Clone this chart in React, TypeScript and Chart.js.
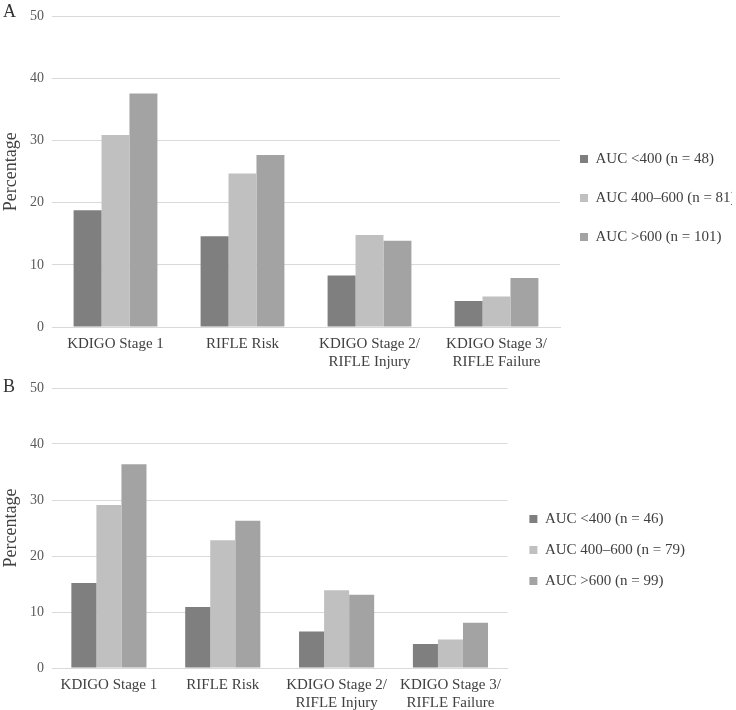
import React, { useEffect, useRef } from "react";
import { Chart, registerables } from "chart.js";

Chart.register(...registerables);

const categories: (string | string[])[] = [
  "KDIGO Stage 1",
  "RIFLE Risk",
  ["KDIGO Stage 2/", "RIFLE Injury"],
  ["KDIGO Stage 3/", "RIFLE Failure"],
];

const seriesNamesA = ["AUC <400 (n = 48)", "AUC 400–600 (n = 81)", "AUC >600 (n = 101)"];
const seriesNamesB = ["AUC <400 (n = 46)", "AUC 400–600 (n = 79)", "AUC >600 (n = 99)"];

const lowA = [18.8, 14.6, 8.3, 4.2];
const midA = [30.9, 24.7, 14.8, 4.9];
const highA = [37.6, 27.7, 13.9, 7.9];

const lowB = [15.2, 10.9, 6.5, 4.3];
const midB = [29.1, 22.8, 13.9, 5.1];
const highB = [36.4, 26.3, 13.1, 8.1];

const yTicks = [0, 10, 20, 30, 40, 50];

const colors = ["#7f7f7f", "#c0c0c0", "#a3a3a3"];
const FONT = "'Liberation Serif', 'Times New Roman', serif";

type PanelProps = {
  names: string[];
  series: number[][];
  width: number;
  height: number;
  padTop: number;
  padRight: number;
  legendMaxWidth: number;
  legendPadding: number;
  legendDx: number;
  legendDy: number;
};

function Panel(p: PanelProps) {
  const ref = useRef<HTMLCanvasElement | null>(null);
  useEffect(() => {
    if (!ref.current) return;
    const shift = {
      id: "legendShift",
      afterUpdate(chart: any) {
        const l = chart.legend;
        if (!l) return;
        l.top += p.legendDy;
        l.bottom += p.legendDy;
        l.left += p.legendDx;
        l.right += p.legendDx;
      },
    };
    const chart = new Chart(ref.current, {
      type: "bar",
      data: {
        labels: categories,
        datasets: p.series.map((d, i) => ({
          label: p.names[i],
          data: d,
          backgroundColor: colors[i],
          borderWidth: 0,
          barPercentage: 1,
          categoryPercentage: 0.66,
        })),
      },
      options: {
        animation: false,
        responsive: false,
        maintainAspectRatio: false,
        layout: { padding: { top: p.padTop, right: p.padRight, left: 0, bottom: 0 } },
        plugins: {
          legend: {
            position: "right",
            align: "center",
            maxWidth: p.legendMaxWidth,
            labels: {
              boxWidth: 8,
              boxHeight: 8,
              padding: p.legendPadding,
              color: "#404040",
              font: { family: FONT, size: 15 },
            },
          },
          tooltip: { enabled: false },
        },
        scales: {
          x: {
            grid: { display: false, drawTicks: false },
            border: { display: true, color: "#d9d9d9" },
            ticks: {
              padding: 8,
              color: "#404040",
              maxRotation: 0,
              autoSkip: false,
              font: { family: FONT, size: 15, lineHeight: 1.2 },
            },
          },
          y: {
            min: 0,
            max: 50,
            afterBuildTicks: (scale: any) => {
              scale.ticks = yTicks.map((v) => ({ value: v }));
            },
            afterFit: (scale: any) => {
              scale.width = 52;
            },
            grid: { color: "#d9d9d9", drawTicks: false, lineWidth: 1 },
            border: { display: false },
            title: {
              display: true,
              text: "Percentage",
              color: "#404040",
              padding: { top: 0, bottom: 0 },
              font: { family: FONT, size: 18 },
            },
            ticks: {
              padding: 8,
              color: "#595959",
              font: { family: FONT, size: 14 },
            },
          },
        },
      },
      plugins: [shift],
    } as any);
    return () => chart.destroy();
  }, []);
  return <canvas ref={ref} width={p.width} height={p.height} style={{ display: "block", width: p.width, height: p.height }} />;
}

export default function App() {
  return (
    <div style={{ position: "absolute", left: 0, top: 0, width: 736, height: 710, overflow: "hidden", background: "#ffffff" }}>
      <div style={{ position: "absolute", left: 0, top: 0 }}>
        <Panel
          names={seriesNamesA}
          series={[lowA, midA, highA]}
          width={736}
          height={379}
          padTop={15}
          padRight={0}
          legendMaxWidth={176}
          legendPadding={24}
          legendDx={-4}
          legendDy={1}
        />
      </div>
      <div style={{ position: "absolute", left: 0, top: 370 }}>
        <Panel
          names={seriesNamesB}
          series={[lowB, midB, highB]}
          width={736}
          height={350}
          padTop={18}
          padRight={47}
          legendMaxWidth={231}
          legendPadding={16}
          legendDx={6}
          legendDy={-4}
        />
      </div>
      <div style={{ position: "absolute", left: 3, top: 1, fontFamily: FONT, fontSize: 18, color: "#333" }}>A</div>
      <div style={{ position: "absolute", left: 3, top: 376, fontFamily: FONT, fontSize: 18, color: "#333" }}>B</div>
    </div>
  );
}
